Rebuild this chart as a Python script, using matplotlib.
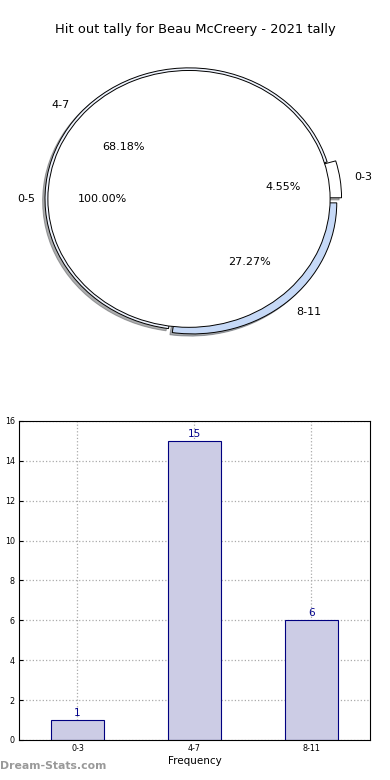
import matplotlib
matplotlib.use("Agg")
import matplotlib.pyplot as plt

title = "Hit out tally for Beau McCreery - 2021 tally"

# outer ring: tally bins
ring_labels = ["0-3", "4-7", "8-11"]
ring_counts = [1, 15, 6]
ring_colors = ["#ffffff", "#eef3fd", "#c6d9f7"]
ring_explode = [0.06, 0.0, 0.04]

# inner pie
inner_labels = ["0-5"]
inner_counts = [1]

# bar chart
bar_labels = ["0-3", "4-7", "8-11"]
bar_values = [1, 15, 6]

fig = plt.figure(figsize=(3.9, 7.8), dpi=100)

# ---- pie ----
ax1 = fig.add_axes([0.0231, 0.535, 0.923, 0.42])
ax1.pie(ring_counts, labels=ring_labels, colors=ring_colors, explode=ring_explode,
        autopct="%.2f%%", pctdistance=0.6, labeldistance=1.1, startangle=0,
        shadow=dict(ox=-0.012, oy=-0.012, alpha=0.45), radius=1.0,
        wedgeprops=dict(edgecolor="black", linewidth=0.7),
        textprops=dict(fontsize=8))
ax1.pie(inner_counts, labels=inner_labels, colors=["white"],
        autopct="%.2f%%", pctdistance=0.61, labeldistance=1.09, startangle=0,
        radius=0.98,
        wedgeprops=dict(edgecolor="black", linewidth=0.7),
        textprops=dict(fontsize=8))
ax1.set_aspect("auto")
ax1.set_xlim(-1.25, 1.25)
ax1.set_ylim(-1.25, 1.25)
fig.text(0.5, 1 - 30 / 780, title, ha="center", va="center", fontsize=9.4)

# ---- bars ----
ax2 = fig.add_axes([0.0487, 0.0513, 0.9, 0.409])
x = range(len(bar_values))
bars = ax2.bar(x, bar_values, width=0.45, color="#ccccE5", edgecolor="navy",
               linewidth=0.8, zorder=2)
for i, v in enumerate(bar_values):
    ax2.text(i, v + 0.1, str(v), ha="center", va="bottom", color="darkblue", fontsize=7.5)
ax2.set_xticks(list(x))
ax2.set_xticklabels(bar_labels)
ax2.set_xlim(-0.5, 2.5)
ax2.set_ylim(0, 16)
ax2.set_yticks(range(0, 17, 2))
ax2.tick_params(labelsize=5.8, direction="in", length=3, pad=3)
ax2.grid(True, linestyle=":", color="#aaaaaa", linewidth=0.9, zorder=0)
ax2.set_axisbelow(True)
ax2.set_xlabel("Frequency", fontsize=7.5, labelpad=2)
ax2.set_ylabel("Count of Tallies", fontsize=7.5, labelpad=3)

fig.text(0.0, 0.012, "Dream-Stats.com", color="#999999", fontsize=7.8,
         fontweight="bold", ha="left", va="bottom")

fig.savefig("out.png", dpi=100)
